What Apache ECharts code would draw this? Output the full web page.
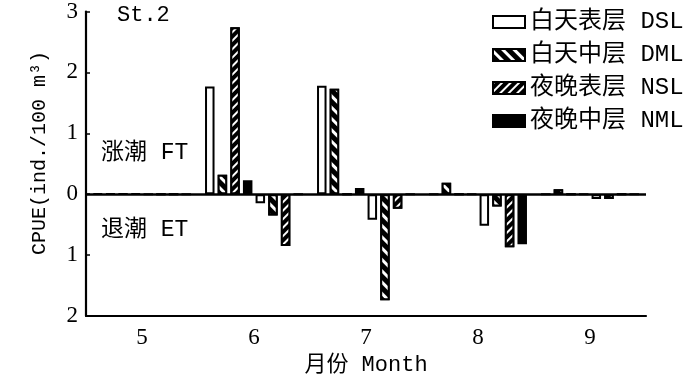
<!DOCTYPE html>
<html>
<head>
<meta charset="utf-8">
<script src="https://cdn.jsdelivr.net/npm/echarts@6/dist/echarts.min.js"></script>
<style>html,body{margin:0;padding:0;background:#fff;}#c{width:700px;height:381px;}</style>
</head>
<body>
<div id="c"></div>
<script>
// ---- data ----
const months = ['5', '6', '7', '8', '9'];
const yTicks = [-2, -1, 0, 1, 2, 3];
const seriesNames = ['白天表层 DSL', '白天中层 DML', '夜晚表层 NSL', '夜晚中层 NML'];
// flood tide (涨潮 FT), plotted upward
const ftDSL = [0.01, 1.77, 1.78, 0, 0];
const ftDML = [0.01, 0.32, 1.73, 0.19, 0.08];
const ftNSL = [0.01, 2.74, 0, 0, 0];
const ftNML = [0.01, 0.23, 0.10, 0, 0];
// ebb tide (退潮 ET), plotted downward
const etDSL = [0, -0.15, -0.42, -0.52, -0.08];
const etDML = [0, -0.35, -1.74, -0.20, -0.08];
const etNSL = [0, -0.85, -0.24, -0.87, 0];
const etNML = [0, 0, 0, -0.82, 0];

const latin = '"Liberation Mono", "Noto Sans CJK SC", monospace';
const serif = '"Liberation Serif", "Noto Sans CJK SC", serif';

const styles = [
  { color: '#fff', borderColor: '#000', borderWidth: 2 },
  { color: '#000', borderColor: '#000', borderWidth: 2,
    decal: { symbol: 'rect', color: '#fff', dashArrayX: [1, 0], dashArrayY: [2.5, 5], rotation: Math.PI / 4, symbolSize: 1 } },
  { color: '#000', borderColor: '#000', borderWidth: 2,
    decal: { symbol: 'rect', color: '#fff', dashArrayX: [1, 0], dashArrayY: [1.2, 3.4], rotation: -Math.PI / 4, symbolSize: 1 } },
  { color: '#000', borderColor: '#000', borderWidth: 2 }
];
const ftData = [ftDSL, ftDML, ftNSL, ftNML];
const etData = [etDSL, etDML, etNSL, etNML];

const series = [];
ftData.forEach((d, i) => series.push({
  name: seriesNames[i], type: 'bar', data: d, barWidth: 9.5, barGap: '33%',
  itemStyle: styles[i], emphasis: { disabled: true }
}));
etData.forEach((d, i) => series.push({
  name: seriesNames[i], type: 'bar', data: d, barWidth: 9.5, barGap: '33%',
  itemStyle: styles[i], emphasis: { disabled: true }
}));
series[0].markLine = {
  silent: true, symbol: 'none', label: { show: false },
  lineStyle: { color: '#000', width: 2.5, type: 'solid' },
  data: [{ yAxis: 0 }]
};

const chart = echarts.init(document.getElementById('c'));
chart.setOption({
  animation: false,
  backgroundColor: '#fff',
  grid: { left: 86, right: 54, top: 10, bottom: 61 },
  legend: {
    data: seriesNames, orient: 'vertical', left: 487, top: 5,
    icon: 'rect', itemWidth: 32, itemHeight: 12, itemGap: 9,
    textStyle: { fontFamily: latin, fontSize: 24, color: '#000', lineHeight: 23 }
  },
  xAxis: {
    type: 'category', data: months,
    axisLine: { onZero: false, lineStyle: { color: '#000', width: 2.2 } },
    axisTick: { inside: true, alignWithLabel: true, length: 4, lineStyle: { color: '#000', width: 1.5 } },
    axisLabel: { fontFamily: serif, fontSize: 23, color: '#000', margin: 10 },
    name: '月份 Month', nameLocation: 'middle', nameGap: 38,
    nameTextStyle: { fontFamily: latin, fontSize: 22, color: '#000' }
  },
  yAxis: {
    type: 'value', min: -2, max: 3, interval: 1,
    axisLine: { show: true, lineStyle: { color: '#000', width: 2.2 } },
    axisTick: { show: true, inside: true, length: 4, lineStyle: { color: '#000', width: 1.5 } },
    splitLine: { show: false },
    axisLabel: { fontFamily: serif, fontSize: 23, color: '#000', margin: 8,
      formatter: v => yTicks.includes(v) ? String(Math.abs(v)) : '' }
  },
  graphic: [
    { type: 'text', x: 40, y: 153, rotation: Math.PI / 2,
      style: { text: 'CPUE(ind./100 m³)', font: '20px ' + latin, fill: '#000', align: 'center', verticalAlign: 'middle' } },
    { type: 'text', x: 117, y: 15,
      style: { text: 'St.2', font: '22px ' + latin, fill: '#000', align: 'left', verticalAlign: 'middle' } },
    { type: 'text', x: 101, y: 153,
      style: { text: '涨潮 FT', font: '23px ' + latin, fill: '#000', align: 'left', verticalAlign: 'middle' } },
    { type: 'text', x: 101, y: 230,
      style: { text: '退潮 ET', font: '23px ' + latin, fill: '#000', align: 'left', verticalAlign: 'middle' } }
  ],
  series: series
});
</script>
</body>
</html>
